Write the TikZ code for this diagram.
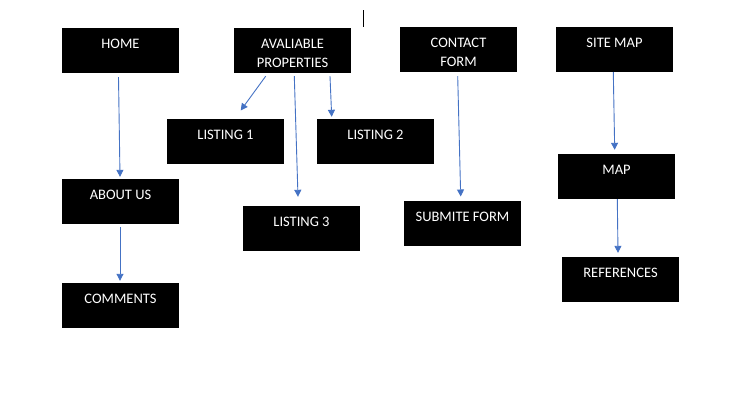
\documentclass[tikz,border=0pt]{standalone}
\usepackage{fontspec}
\setmainfont{Carlito}
\usetikzlibrary{arrows.meta}
\begin{document}
\begin{tikzpicture}[x=1pt,y=-1pt,
  box/.style={rectangle,fill=black,minimum width=117pt,minimum height=45pt,inner sep=0pt},
  lab/.style={anchor=north,text=white,align=center,inner sep=0pt,yshift=-11.5pt,
    font=\fontsize{14.5}{19}\selectfont},
  arr/.style={draw=arrowblue,line width=0.9pt,-{Triangle[width=7pt,length=7pt]}}]
\definecolor{arrowblue}{HTML}{4472C4}
\useasboundingbox (0,0) rectangle (729,408);
\node[box,label={[lab]north:HOME}] (home) at (120.5,50.5) {};
\node[box,label={[lab]north:AVALIABLE\\PROPERTIES}] (avail) at (292.5,50.5) {};
\node[box,label={[lab]north:LISTING 1}] (l1) at (225.5,141.5) {};
\node[box,label={[lab]north:LISTING 2}] (l2) at (375.5,141.5) {};
\node[box,label={[lab]north:CONTACT\\FORM}] (contact) at (458.5,49.5) {};
\node[box,label={[lab]north:SITE MAP}] (sitemap) at (614.5,49.5) {};
\node[box,label={[lab]north:MAP}] (map) at (616.5,176.5) {};
\node[box,label={[lab]north:ABOUT US}] (about) at (120.5,201.5) {};
\node[box,label={[lab]north:COMMENTS}] (comments) at (120.5,305.5) {};
\node[box,label={[lab]north:LISTING 3}] (l3) at (301.5,228.5) {};
\node[box,label={[lab]north:SUBMITE FORM}] (submit) at (462.5,223.5) {};
\node[box,label={[lab]north:REFERENCES}] (refs) at (620.5,279.5) {};
\draw[arr] ([xshift=-2pt,yshift=-4pt]home.south) -- ([xshift=-0.5pt,yshift=2pt]about.north);
\draw[arr] ([xshift=-0.5pt,yshift=-3pt]about.south) -- ([xshift=-0.5pt,yshift=2pt]comments.north);
\draw[arr] ([xshift=-26.8pt,yshift=-3pt]avail.south) -- ([xshift=15.2pt,yshift=8.3pt]l1.north);
\draw[arr] ([xshift=37.5pt,yshift=-3pt]avail.south) -- ([xshift=-43.8pt,yshift=2pt]l2.north);
\draw[arr] ([xshift=1.8pt,yshift=-3pt]avail.south) -- ([xshift=-3.5pt,yshift=9pt]l3.north);
\draw[arr] ([xshift=-0.8pt,yshift=-4pt]contact.south) -- ([xshift=-1.8pt,yshift=4.3pt]submit.north);
\draw[arr] ([xshift=-1.2pt]sitemap.south) -- ([xshift=-1.8pt,yshift=4pt]map.north);
\draw[arr] ([xshift=0.8pt]map.south) -- ([xshift=-2.5pt,yshift=4pt]refs.north);
\draw[line width=1pt] (363.3,10) -- (363.3,27);
\end{tikzpicture}
\end{document}
